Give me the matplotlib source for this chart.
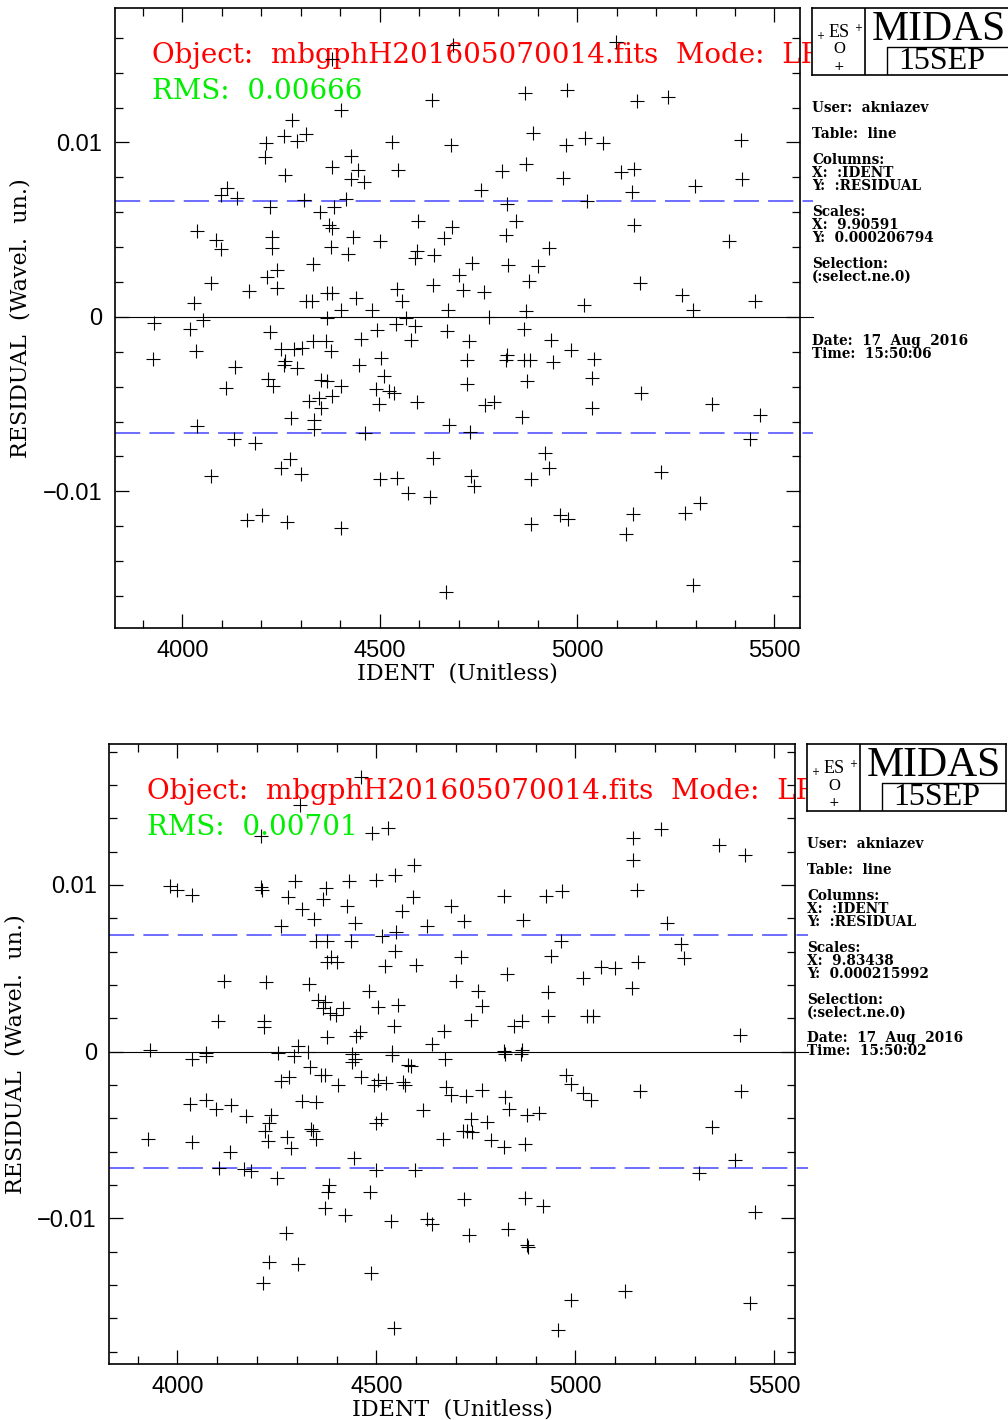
import matplotlib
matplotlib.use("Agg")
import matplotlib.pyplot as plt
from matplotlib.ticker import MultipleLocator

# residuals of the line identification, first run
ident_top = [4379, 4402, 4278, 4258, 4313, 4291, 4212, 4210, 4379, 4260,
             4113, 4098, 4139, 4222, 4308, 4349, 4384, 4372, 4379, 4037,
             4227, 4085, 4098, 4227, 4377, 4331, 4240, 4215, 4073, 4169,
             4240, 4367, 4379, 4030, 4313, 4329, 4402, 4367, 4415, 4420,
             3928, 4052, 4020, 4222, 4331, 4364, 4250, 4283, 4303, 4377,
             3926, 4035, 4260, 4258, 4291, 4134, 4217, 4230, 4111, 4351,
             4367, 4402, 4321, 4346, 4379, 4351, 4275, 4334, 4334, 4037,
             4131, 4184, 4273, 4250, 4301, 4073, 4164, 4202, 4265, 4402,
             4686, 4633, 4868, 4975, 4889, 4531, 4681, 4972, 4427, 4445,
             4547, 4427, 4460, 4810, 4871, 4965, 4757, 4823, 4597, 4845,
             4683, 4432, 4501, 4663, 4820, 4595, 4590, 4638, 4929, 4734,
             4825, 4901, 4701, 4878, 4635, 4711, 4764, 4544, 4557, 4440,
             4481, 4673, 4871, 4567, 4777, 4541, 4590, 4493, 4866, 4671,
             4453, 4579, 4726, 4934, 4985, 4503, 4448, 4721, 4823, 4820,
             4866, 4881, 4939, 4511, 4491, 4524, 4536, 4721, 4873, 4498,
             4595, 4767, 4790, 4861, 4676, 4463, 4729, 4919, 4929, 4635,
             4501, 4544, 4731, 4739, 4883, 4572, 4628, 4883, 4957, 4977,
             4668, 5099, 5152, 5231, 5020, 5066, 5416, 5112, 5144, 5139,
             5299, 5418, 5025, 5144, 5385, 5160, 5266, 5294, 5451, 5018,
             5043, 5038, 5038, 5162, 5342, 5464, 5438, 5213, 5312, 5274,
             5142, 5124, 5294]
resid_top = [0.01479, 0.01186, 0.01129, 0.01037, 0.01049, 0.01009, 0.00997, 0.00917, 0.00860, 0.00814,
             0.00739, 0.00699, 0.00682, 0.00630, 0.00671, 0.00602, 0.00630, 0.00527, 0.00510, 0.00493,
             0.00458, 0.00441, 0.00390, 0.00395, 0.00401, 0.00304, 0.00269, 0.00229, 0.00195, 0.00149,
             0.00166, 0.00138, 0.00138, 0.00080, 0.00092, 0.00092, 0.00040, -0.00006, 0.00676, 0.00361,
             -0.00034, -0.00017, -0.00069, -0.00086, -0.00138, -0.00138, -0.00183, -0.00183, -0.00178, -0.00195,
             -0.00241, -0.00195, -0.00252, -0.00275, -0.00292, -0.00287, -0.00355, -0.00395, -0.00407, -0.00361,
             -0.00367, -0.00395, -0.00481, -0.00464, -0.00453, -0.00522, -0.00579, -0.00590, -0.00642, -0.00625,
             -0.00699, -0.00722, -0.00814, -0.00865, -0.00900, -0.00911, -0.01163, -0.01135, -0.01175, -0.01209,
             0.01559, 0.01244, 0.01284, 0.01301, 0.01054, 0.01003, 0.00986, 0.00986, 0.00923, 0.00842,
             0.00842, 0.00791, 0.00774, 0.00837, 0.00877, 0.00797, 0.00728, 0.00648, 0.00550, 0.00550,
             0.00516, 0.00458, 0.00436, 0.00453, 0.00470, 0.00378, 0.00338, 0.00355, 0.00395, 0.00309,
             0.00298, 0.00292, 0.00241, 0.00206, 0.00183, 0.00155, 0.00143, 0.00160, 0.00092, 0.00109,
             0.00040, 0.00040, 0.00034, -0.00006, 0.00000, -0.00040, -0.00052, -0.00075, -0.00069, -0.00080,
             -0.00126, -0.00132, -0.00138, -0.00132, -0.00189, -0.00235, -0.00275, -0.00246, -0.00218, -0.00246,
             -0.00246, -0.00246, -0.00258, -0.00338, -0.00413, -0.00424, -0.00436, -0.00384, -0.00367, -0.00499,
             -0.00487, -0.00504, -0.00487, -0.00573, -0.00619, -0.00665, -0.00659, -0.00779, -0.00865, -0.00808,
             -0.00928, -0.00923, -0.00911, -0.00969, -0.00928, -0.01009, -0.01032, -0.01186, -0.01135, -0.01158,
             -0.01576, 0.01576, 0.01238, 0.01261, 0.01026, 0.00997, 0.01014, 0.00831, 0.00848, 0.00716,
             0.00751, 0.00791, 0.00665, 0.00527, 0.00436, 0.00195, 0.00126, 0.00040, 0.00092, 0.00069,
             -0.00241, -0.00350, -0.00522, -0.00436, -0.00499, -0.00562, -0.00699, -0.00888, -0.01066, -0.01123,
             -0.01129, -0.01244, -0.01536]
rms_top = 0.00666
scales_top = ("9.90591", "0.000206794")
stamp_top = ("17  Aug  2016", "15:50:06")

# second run
ident_bot = [4308, 4210, 3981, 4000, 4038, 4210, 4213, 4296, 4279, 4374,
             4367, 4313, 4343, 4260, 4348, 4377, 4385, 4377, 4401, 4117,
             4224, 4331, 4354, 4371, 4366, 4384, 4399, 4101, 4218, 4218,
             4375, 3931, 4071, 4253, 4302, 4329, 4462, 4488, 4530, 4595,
             4431, 4500, 4547, 4427, 4592, 4565, 4687, 4821, 4927, 4966,
             4447, 4720, 4626, 4869, 4436, 4515, 4549, 4963, 4547, 4938,
             4712, 4522, 4599, 4827, 4701, 4482, 4756, 4932, 4416, 4505,
             4555, 4765, 4544, 4737, 4932, 4846, 4865, 4448, 4458, 4670,
             4639, 4540, 4821, 4865, 4440, 5145, 5216, 5145, 5361, 5426,
             5154, 5230, 5265, 5273, 5018, 5065, 5100, 5158, 5141, 5030,
             5044, 5414, 4036, 4073, 4293, 4333, 4281, 4260, 4362, 4371,
             4404, 4032, 4073, 4098, 4136, 4172, 4235, 4230, 4219, 4229,
             4314, 4349, 4335, 4341, 4348, 4276, 4285, 3927, 4036, 4132,
             4105, 4168, 4186, 4251, 4381, 4379, 4371, 4272, 4230, 4302,
             4216, 4447, 4439, 4540, 4580, 4586, 4673, 4823, 4863, 4461,
             4503, 4494, 4524, 4567, 4572, 4674, 4687, 4725, 4766, 4823,
             4832, 4879, 4909, 4616, 4511, 4500, 4739, 4779, 4727, 4740,
             4718, 4668, 4789, 4821, 4873, 4444, 4498, 4597, 4483, 4421,
             4538, 4628, 4641, 4720, 4874, 4919, 4733, 4831, 4879, 4882,
             4487, 4544, 4957, 4976, 4988, 5018, 5039, 5162, 5416, 5343,
             5401, 5311, 5451, 5125, 5439, 4988]
resid_bot = [0.01481, 0.01295, 0.00995, 0.00971, 0.00941, 0.00987, 0.00969, 0.01021, 0.00929, 0.00981,
             0.00915, 0.00855, 0.00795, 0.00755, 0.00665, 0.00665, 0.00565, 0.00535, 0.00537, 0.00425,
             0.00415, 0.00405, 0.00309, 0.00297, 0.00261, 0.00231, 0.00219, 0.00185, 0.00185, 0.00145,
             0.00085, 0.00009, -0.00011, -0.00011, 0.00035, -0.00005, 0.01645, 0.01309, 0.01341, 0.01121,
             0.01021, 0.01029, 0.01061, 0.00875, 0.00929, 0.00845, 0.00875, 0.00931, 0.00935, 0.00961,
             0.00771, 0.00785, 0.00755, 0.00789, 0.00665, 0.00695, 0.00715, 0.00665, 0.00605, 0.00575,
             0.00565, 0.00515, 0.00521, 0.00465, 0.00421, 0.00365, 0.00361, 0.00355, 0.00261, 0.00265,
             0.00281, 0.00275, 0.00155, 0.00189, 0.00215, 0.00155, 0.00185, 0.00095, 0.00115, 0.00121,
             0.00045, -0.00005, 0.00005, 0.00009, -0.00015, 0.01281, 0.01335, 0.01149, 0.01241, 0.01179,
             0.00971, 0.00771, 0.00645, 0.00561, 0.00441, 0.00505, 0.00501, 0.00535, 0.00381, 0.00215,
             0.00215, 0.00101, -0.00043, -0.00027, -0.00027, -0.00093, -0.00153, -0.00179, -0.00143, -0.00139,
             -0.00201, -0.00313, -0.00293, -0.00343, -0.00319, -0.00389, -0.00383, -0.00429, -0.00479, -0.00539,
             -0.00299, -0.00303, -0.00463, -0.00477, -0.00527, -0.00513, -0.00579, -0.00523, -0.00543, -0.00603,
             -0.00699, -0.00703, -0.00717, -0.00757, -0.00803, -0.00843, -0.00939, -0.01089, -0.01263, -0.01277,
             -0.01387, -0.00043, -0.00063, -0.00023, -0.00083, -0.00087, -0.00043, -0.00013, -0.00013, -0.00153,
             -0.00173, -0.00199, -0.00187, -0.00183, -0.00203, -0.00211, -0.00263, -0.00269, -0.00233, -0.00273,
             -0.00347, -0.00383, -0.00367, -0.00353, -0.00403, -0.00427, -0.00403, -0.00423, -0.00477, -0.00483,
             -0.00477, -0.00527, -0.00533, -0.00573, -0.00553, -0.00639, -0.00713, -0.00713, -0.00843, -0.00983,
             -0.01017, -0.01003, -0.01033, -0.00887, -0.00877, -0.00929, -0.01099, -0.01067, -0.01159, -0.01173,
             -0.01327, -0.01659, -0.01673, -0.00143, -0.00195, -0.00247, -0.00293, -0.00239, -0.00239, -0.00453,
             -0.00653, -0.00727, -0.00963, -0.01439, -0.01507, -0.01493]
rms_bot = 0.00701
scales_bot = ("9.83438", "0.000215992")
stamp_bot = ("17  Aug  2016", "15:50:02")

frame_name = "mbgphH201605070014.fits"
mode = "LR"

SERIF = "DejaVu Serif"
SANS = "Liberation Sans"


def midas_logo(ax):
    lg = ax.inset_axes([1.018, 0.892, 0.29, 0.108])
    lg.set_xlim(0, 1)
    lg.set_ylim(0, 1)
    lg.set_xticks([])
    lg.set_yticks([])
    for s in lg.spines.values():
        s.set_linewidth(1.2)
    lg.axvline(0.265, color="k", lw=1.2)
    lg.plot([0.378, 0.378, 1.0], [0.0, 0.42, 0.42], color="k", lw=1.0)
    lg.text(0.135, 0.64, "ES", ha="center", va="center", family="Liberation Serif", fontsize=13)
    lg.text(0.135, 0.38, "O", ha="center", va="center", family="Liberation Serif", fontsize=12)
    lg.text(0.04, 0.58, "+", ha="center", va="center", fontsize=7)
    lg.text(0.23, 0.70, "+", ha="center", va="center", fontsize=7)
    lg.text(0.135, 0.12, "+", ha="center", va="center", fontsize=9)
    lg.text(0.64, 0.67, "MIDAS", ha="center", va="center", family="Liberation Serif", fontsize=30)
    lg.text(0.655, 0.20, "15SEP", ha="center", va="center", family="Liberation Serif", fontsize=23)


def info_block(ax, scales, stamp, stamp_y):
    lines = [
        (0.0, "User:  akniazev"),
        (26, "Table:  line"),
        (52, "Columns:"),
        (65, "X:  :IDENT"),
        (78, "Y:  :RESIDUAL"),
        (104, "Scales:"),
        (117, "X:  " + scales[0]),
        (130, "Y:  " + scales[1]),
        (156, "Selection:"),
        (169, "(:select.ne.0)"),
        (stamp_y, "Date:  " + stamp[0]),
        (stamp_y + 13, "Time:  " + stamp[1]),
    ]
    for dy, txt in lines:
        ax.text(1.018, 0.8386 - dy / 619.7, txt, transform=ax.transAxes,
                ha="left", va="center", family=SERIF, fontsize=9.8,
                fontweight="semibold", clip_on=False)


def panel(ax, ident, resid, rms, xlim, ylim):
    ax.plot(ident, resid, linestyle="none", marker="+", ms=10.5, mew=0.8,
            color="k", zorder=3)
    tr = ax.get_yaxis_transform()
    ax.plot([0, 1.019], [0, 0], transform=tr, color="k", lw=0.8,
            clip_on=False, zorder=2)
    for level in (rms, -rms):
        ax.plot([0, 1.019], [level, level], transform=tr, color="#4646ff",
                lw=1.1, dashes=(16.5, 6), clip_on=False, zorder=2)

    ax.set_xlim(*xlim)
    ax.set_ylim(*ylim)
    ax.xaxis.set_major_locator(MultipleLocator(500))
    ax.xaxis.set_minor_locator(MultipleLocator(100))
    ax.yaxis.set_major_locator(MultipleLocator(0.01))
    ax.yaxis.set_minor_locator(MultipleLocator(0.002))
    ax.yaxis.set_major_formatter(lambda v, p: "0" if abs(v) < 1e-9 else f"{v:g}".replace("-", "\u2212"))
    ax.tick_params(which="both", direction="in", top=True, right=True, width=0.9)
    ax.tick_params(which="major", length=10, pad=9, labelsize=17)
    ax.tick_params(which="minor", length=5.5)
    for lab in ax.get_xticklabels() + ax.get_yticklabels():
        lab.set_family(SANS)
    for s in ax.spines.values():
        s.set_linewidth(1.2)

    ax.set_xlabel("IDENT  (Unitless)", family=SERIF, fontsize=16, labelpad=0)
    ax.set_ylabel("RESIDUAL  (Wavel.  un.)", family=SERIF, fontsize=16, labelpad=8)

    ax.text(0.055, 0.911, f"Object:  {frame_name}  Mode:  {mode}",
            transform=ax.transAxes, color="red", family=SERIF, fontsize=20,
            va="baseline", clip_on=False, zorder=1)
    ax.text(0.055, 0.853, f"RMS:  {rms:.5f}", transform=ax.transAxes,
            color="#00ee00", family=SERIF, fontsize=20, va="baseline",
            clip_on=False, zorder=1)


fig = plt.figure(figsize=(10.08, 14.2), dpi=100)

ax1 = fig.add_axes([0.1136, 0.5580, 0.6798, 0.4364])
panel(ax1, ident_top, resid_top, rms_top, (3828, 5564), (-0.01781, 0.01771))
midas_logo(ax1)
info_block(ax1, scales_top, stamp_top, 233)

ax2 = fig.add_axes([0.1084, 0.0396, 0.6800, 0.4364])
panel(ax2, ident_bot, resid_bot, rms_bot, (3829, 5551), (-0.01873, 0.01845))
midas_logo(ax2)
info_block(ax2, scales_bot, stamp_bot, 194)

fig.savefig("out.png", dpi=100)
